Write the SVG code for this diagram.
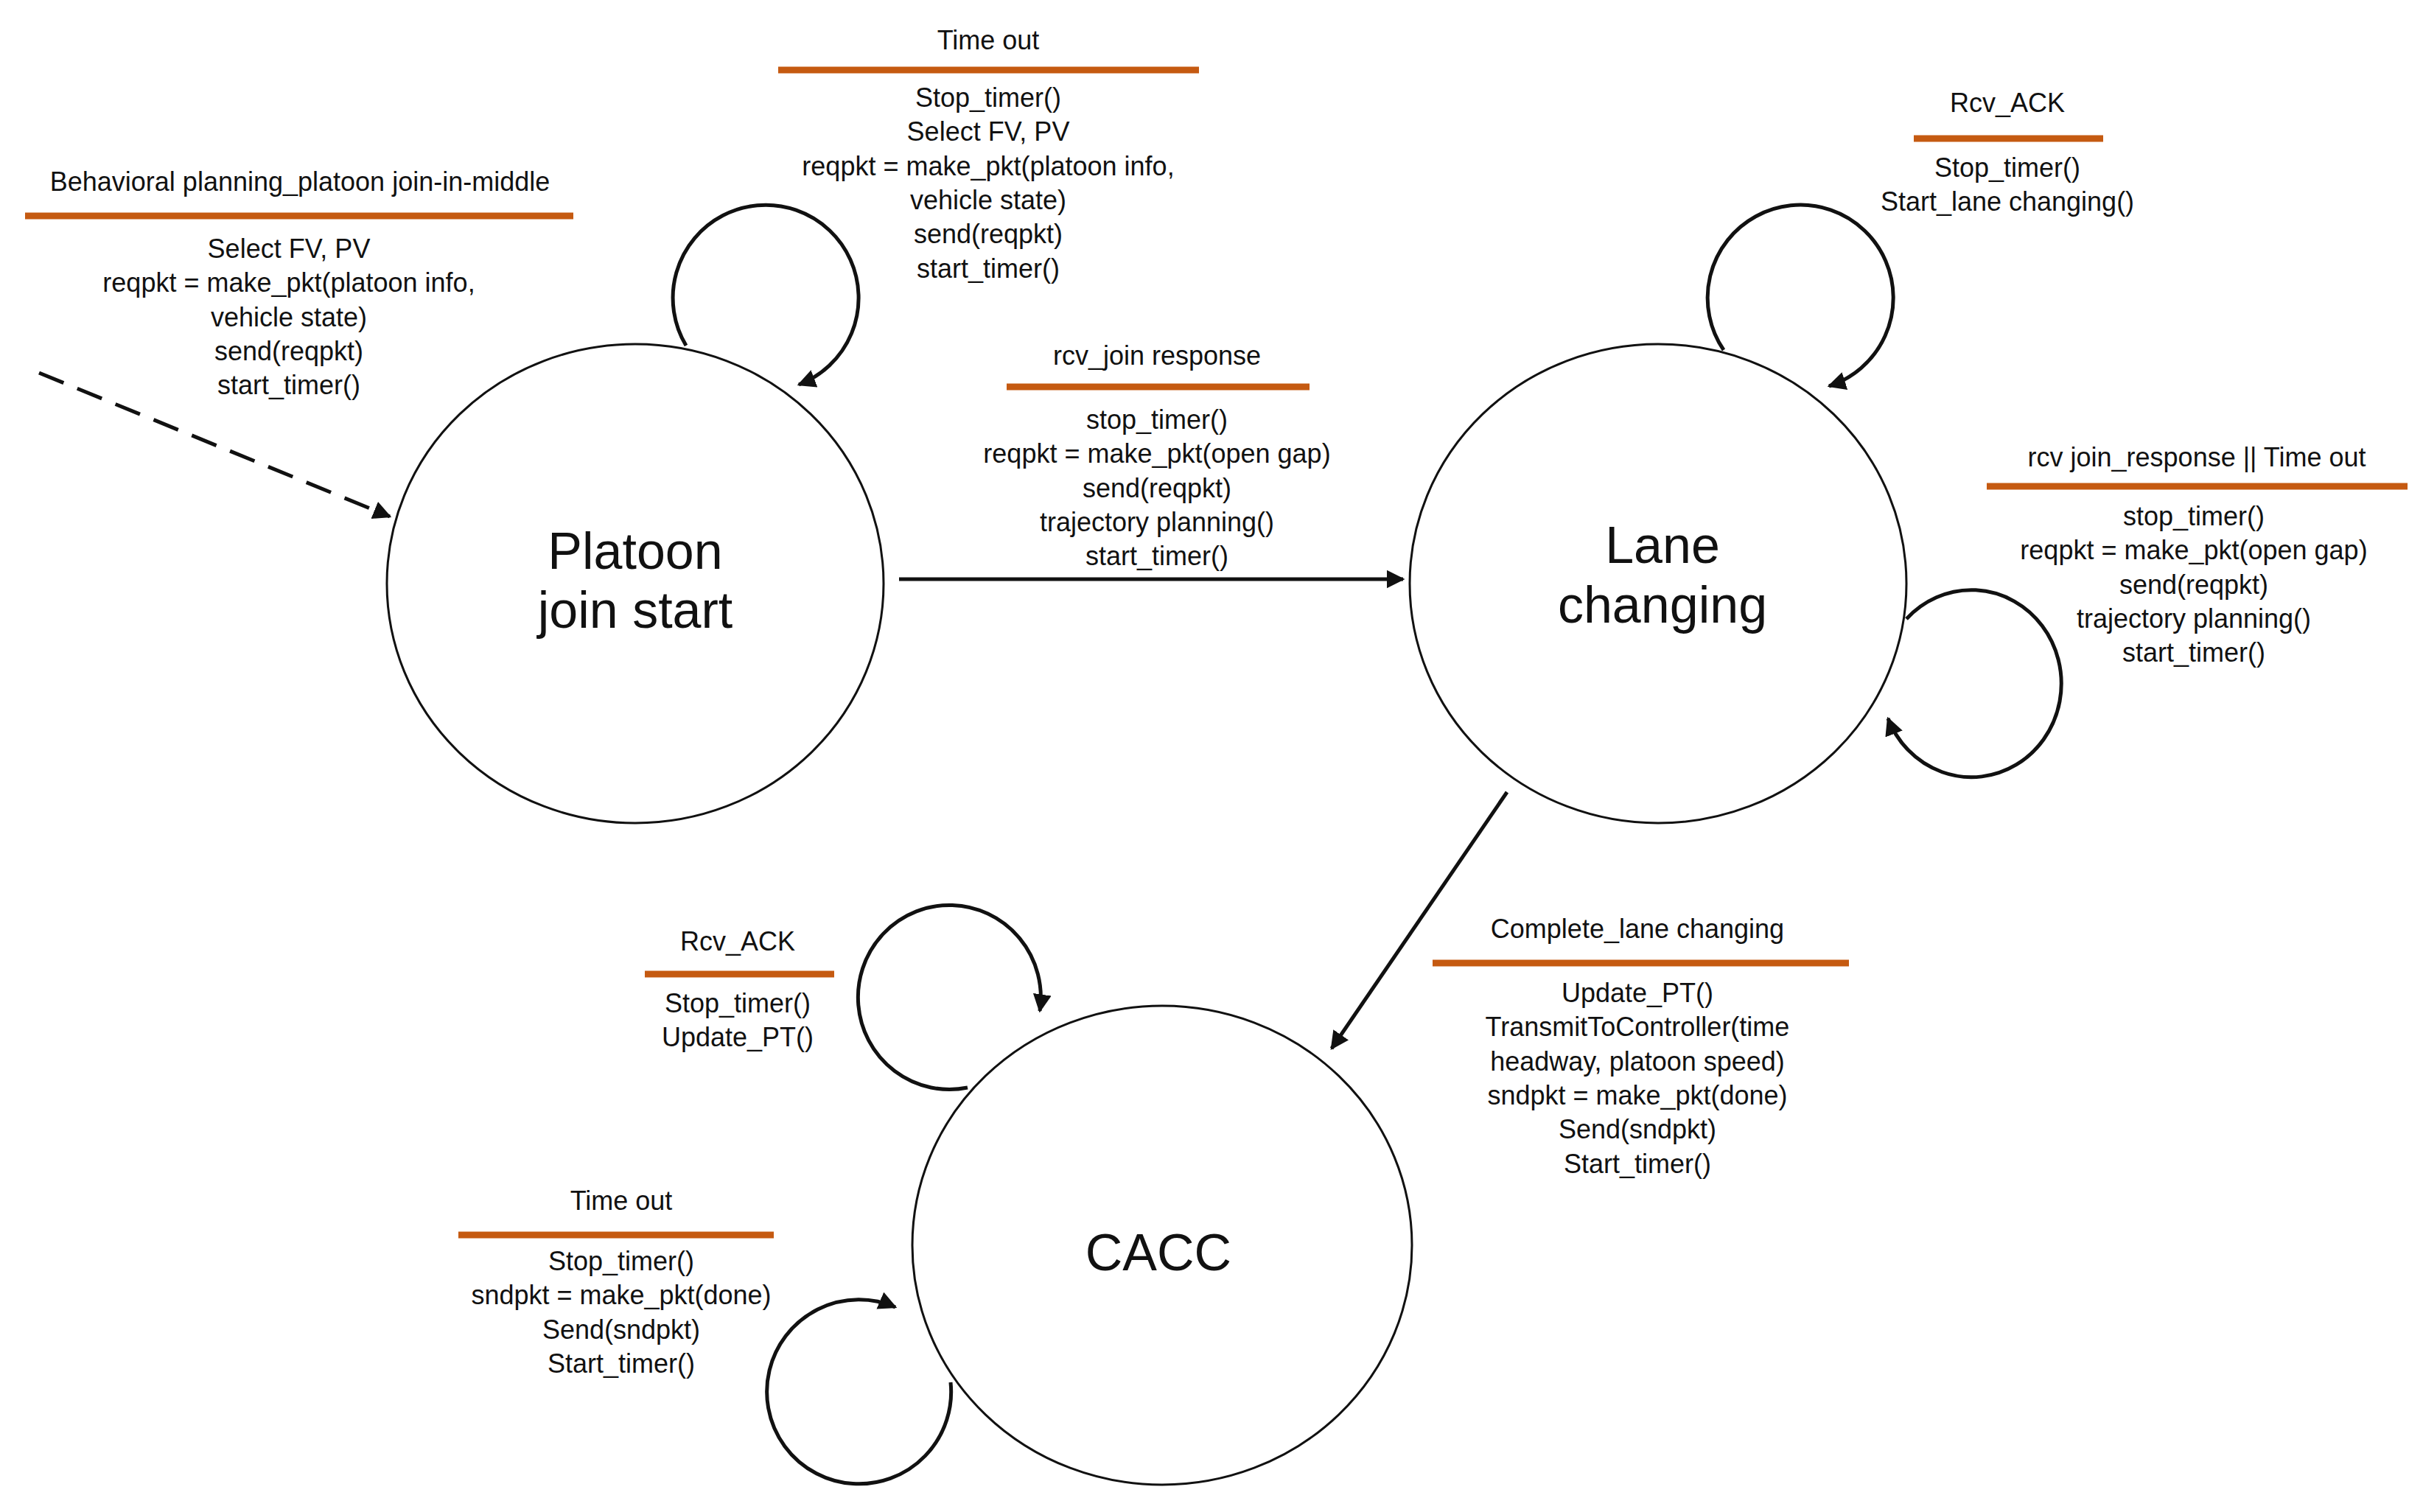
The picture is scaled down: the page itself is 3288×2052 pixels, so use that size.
<svg xmlns="http://www.w3.org/2000/svg" width="3288" height="2052" viewBox="0 0 3288 2052">
<style>
.t{font-family:"Liberation Sans",Arial,sans-serif;font-size:36px;fill:#111;text-anchor:middle}
.big{font-family:"Liberation Sans",Arial,sans-serif;font-size:70px;fill:#111;text-anchor:middle}
.st{fill:#fff;stroke:#111;stroke-width:3}
.bar{stroke:#c55a11;stroke-width:9}
.c{fill:none;stroke:#111;stroke-width:5}
</style>
<defs>
<marker id="ah" viewBox="0 0 10 10" refX="9" refY="5" markerWidth="5" markerHeight="5" orient="auto" markerUnits="strokeWidth"><path d="M0,0 L10,5 L0,10 z" fill="#111"/></marker>
</defs>
<rect width="3288" height="2052" fill="#fff"/>
<g id="connectors">
<path class="c" d="M53,506 L529,701" stroke-dasharray="36,20" marker-end="url(#ah)"/>
<path class="c" d="M1220,786 L1904,786" marker-end="url(#ah)"/>
<path class="c" d="M2045,1075 L1807,1423" marker-end="url(#ah)"/>
<path class="c" d="M931,469 A126 126 0 1 1 1084 522" marker-end="url(#ah)"/>
<path class="c" d="M2339,475 A126 126 0 1 1 2482 524" marker-end="url(#ah)"/>
<path class="c" d="M2587,840 A122 127 0 1 1 2562 975" marker-end="url(#ah)"/>
<path class="c" d="M1313,1476 A124 125 0 1 1 1411 1372" marker-end="url(#ah)"/>
<path class="c" d="M1290,1876 A125 125 0 1 1 1215 1774" marker-end="url(#ah)"/>
</g>
<g id="platoon">
<ellipse class="st" cx="862" cy="792" rx="337" ry="325"/>
<text class="big" x="862" y="772">Platoon</text>
<text class="big" x="862" y="852">join start</text>
</g>
<g id="lane">
<ellipse class="st" cx="2250" cy="792" rx="337" ry="325"/>
<text class="big" x="2256" y="764">Lane</text>
<text class="big" x="2256" y="845">changing</text>
</g>
<g id="cacc">
<ellipse class="st" cx="1577" cy="1690" rx="339" ry="325"/>
<text class="big" x="1572" y="1724">CACC</text>
</g>
<g id="lbl-init">
<text class="t" x="407" y="259">Behavioral planning_platoon join-in-middle</text>
<line class="bar" x1="34" y1="293" x2="778" y2="293"/>
<text class="t" x="392" y="350">Select FV, PV</text>
<text class="t" x="392" y="396">reqpkt = make_pkt(platoon info,</text>
<text class="t" x="392" y="443">vehicle state)</text>
<text class="t" x="392" y="489">send(reqpkt)</text>
<text class="t" x="392" y="535">start_timer()</text>
</g>
<g id="lbl-timeout1">
<text class="t" x="1341" y="67">Time out</text>
<line class="bar" x1="1056" y1="95" x2="1627" y2="95"/>
<text class="t" x="1341" y="145">Stop_timer()</text>
<text class="t" x="1341" y="191">Select FV, PV</text>
<text class="t" x="1341" y="238">reqpkt = make_pkt(platoon info,</text>
<text class="t" x="1341" y="284">vehicle state)</text>
<text class="t" x="1341" y="330">send(reqpkt)</text>
<text class="t" x="1341" y="377">start_timer()</text>
</g>
<g id="lbl-join">
<text class="t" x="1570" y="495">rcv_join response</text>
<line class="bar" x1="1366" y1="525" x2="1777" y2="525"/>
<text class="t" x="1570" y="582">stop_timer()</text>
<text class="t" x="1570" y="628">reqpkt = make_pkt(open gap)</text>
<text class="t" x="1570" y="675">send(reqpkt)</text>
<text class="t" x="1570" y="721">trajectory planning()</text>
<text class="t" x="1570" y="767">start_timer()</text>
</g>
<g id="lbl-ack1">
<text class="t" x="2724" y="152">Rcv_ACK</text>
<line class="bar" x1="2597" y1="188" x2="2854" y2="188"/>
<text class="t" x="2724" y="240">Stop_timer()</text>
<text class="t" x="2724" y="286">Start_lane changing()</text>
</g>
<g id="lbl-rcv2">
<text class="t" x="2981" y="633">rcv join_response || Time out</text>
<line class="bar" x1="2696" y1="660" x2="3267" y2="660"/>
<text class="t" x="2977" y="713">stop_timer()</text>
<text class="t" x="2977" y="759">reqpkt = make_pkt(open gap)</text>
<text class="t" x="2977" y="806">send(reqpkt)</text>
<text class="t" x="2977" y="852">trajectory planning()</text>
<text class="t" x="2977" y="898">start_timer()</text>
</g>
<g id="lbl-complete">
<text class="t" x="2222" y="1273">Complete_lane changing</text>
<line class="bar" x1="1944" y1="1307" x2="2509" y2="1307"/>
<text class="t" x="2222" y="1360">Update_PT()</text>
<text class="t" x="2222" y="1406">TransmitToController(time</text>
<text class="t" x="2222" y="1453">headway, platoon speed)</text>
<text class="t" x="2222" y="1499">sndpkt = make_pkt(done)</text>
<text class="t" x="2222" y="1545">Send(sndpkt)</text>
<text class="t" x="2222" y="1592">Start_timer()</text>
</g>
<g id="lbl-ack2">
<text class="t" x="1001" y="1290">Rcv_ACK</text>
<line class="bar" x1="875" y1="1322" x2="1132" y2="1322"/>
<text class="t" x="1001" y="1374">Stop_timer()</text>
<text class="t" x="1001" y="1420">Update_PT()</text>
</g>
<g id="lbl-timeout2">
<text class="t" x="843" y="1642">Time out</text>
<line class="bar" x1="622" y1="1676" x2="1050" y2="1676"/>
<text class="t" x="843" y="1724">Stop_timer()</text>
<text class="t" x="843" y="1770">sndpkt = make_pkt(done)</text>
<text class="t" x="843" y="1817">Send(sndpkt)</text>
<text class="t" x="843" y="1863">Start_timer()</text>
</g>
</svg>
